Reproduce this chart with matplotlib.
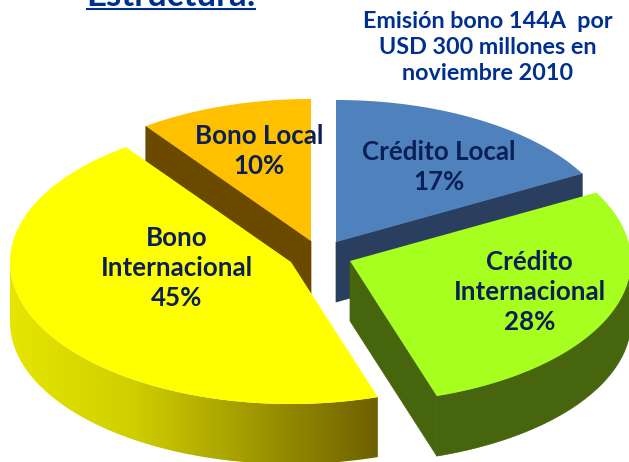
import numpy as np
import matplotlib
matplotlib.use('Agg')
import matplotlib.pyplot as plt
from matplotlib.patches import Polygon
from matplotlib.colors import LinearSegmentedColormap

# slices, clockwise from 12 o'clock
labels = ['Crédito Local\n17%', 'Crédito\nInternacional\n28%', 'Bono\nInternacional\n45%', 'Bono Local\n10%']
values = [17, 28, 45, 10]
top_colors = ['#4f81bd', '#a6ff1f', '#ffff00', '#ffc000']
wall_colors = ['#2a3f5f', '#46650c', None, '#6b4a00']
note_lines = 'Emisión bono 144A  por\nUSD 300 millones en\nnoviembre 2010'
title = 'Estructura:'

# pie centre of each slice in pixels (the slices are exploded)
centers = [(336, 242), (350, 261), (291, 262), (311, 241)]
label_pos = [(439, 167), (529.5, 292), (177, 268), (259, 151)]
draw_order = [3, 0, 2, 1]

rx = 281
ry = 142
depth = 60
navy = '#0b1f57'
blue_txt = '#00308f'

plt.rcParams['font.family'] = ['Lato', 'DejaVu Sans']

fig = plt.figure(figsize=(6.29, 4.62), dpi=100, facecolor='white')
ax = fig.add_axes([0, 0, 1, 1])
ax.axis('off')

ends = np.cumsum(values) * 3.6
starts = ends - np.array(values) * 3.6


def rim(cx, cy, t):
    t = np.radians(t)
    return np.column_stack([cx + rx * np.sin(t), cy - ry * np.cos(t)])


for i in draw_order:
    cx, cy = centers[i]
    t0, t1 = starts[i], ends[i]
    down = np.array([0, depth])

    # radial cut walls that face the viewer
    for t, show in [(t0, np.sin(np.radians(t0)) < -1e-6), (t1, np.sin(np.radians(t1)) > 1e-6)]:
        if show:
            p = rim(cx, cy, [t])[0]
            ax.add_patch(Polygon([(cx, cy), p, p + down, (cx, cy + depth)],
                                 fc=wall_colors[i], ec=wall_colors[i], lw=0.5))

    # outer wall, only the front half is visible
    a = max(t0, 90)
    b = min(t1, 270)
    if a < b:
        ts = np.linspace(a, b, 120)
        upper = rim(cx, cy, ts)
        wall = np.vstack([upper, (upper + down)[::-1]])
        if wall_colors[i] is None:
            cmap = LinearSegmentedColormap.from_list('y', ['#6e6000', '#a09800', '#cfcf00', '#e6e600'])
            grad = np.linspace(0, 1, 256).reshape(1, -1)[:, ::-1]
            im = ax.imshow(grad, cmap=cmap, aspect='auto', zorder=1,
                           extent=[wall[:, 0].min(), wall[:, 0].max(), wall[:, 1].max(), wall[:, 1].min()])
            clip = Polygon(wall, transform=ax.transData, fc='none', ec='none')
            ax.add_patch(clip)
            im.set_clip_path(clip)
        else:
            ax.add_patch(Polygon(wall, fc=wall_colors[i], ec=wall_colors[i], lw=0.5))

    # top face
    ts = np.linspace(t0, t1, 200)
    ax.add_patch(Polygon(np.vstack([[(cx, cy)], rim(cx, cy, ts)]), fc=top_colors[i], ec='none', zorder=2))

for i in range(len(labels)):
    ax.text(label_pos[i][0], label_pos[i][1], labels[i], ha='center', va='center', color=navy,
            fontsize=18.6, fontweight='bold', linespacing=1.29, zorder=5)

ax.text(487.5, 47.5, note_lines, ha='center', va='center', color=blue_txt, fontsize=16.8,
        fontweight='bold', linespacing=1.31, zorder=5)
ax.text(171, 6, title, ha='center', va='baseline', color=blue_txt, fontsize=25, fontweight='bold', zorder=5)
ax.plot([87, 255], [9, 9], color=blue_txt, lw=1.5, zorder=5)

ax.set_xlim(0, 629)
ax.set_ylim(462, 0)

fig.savefig('out.png', dpi=100, facecolor='white')
